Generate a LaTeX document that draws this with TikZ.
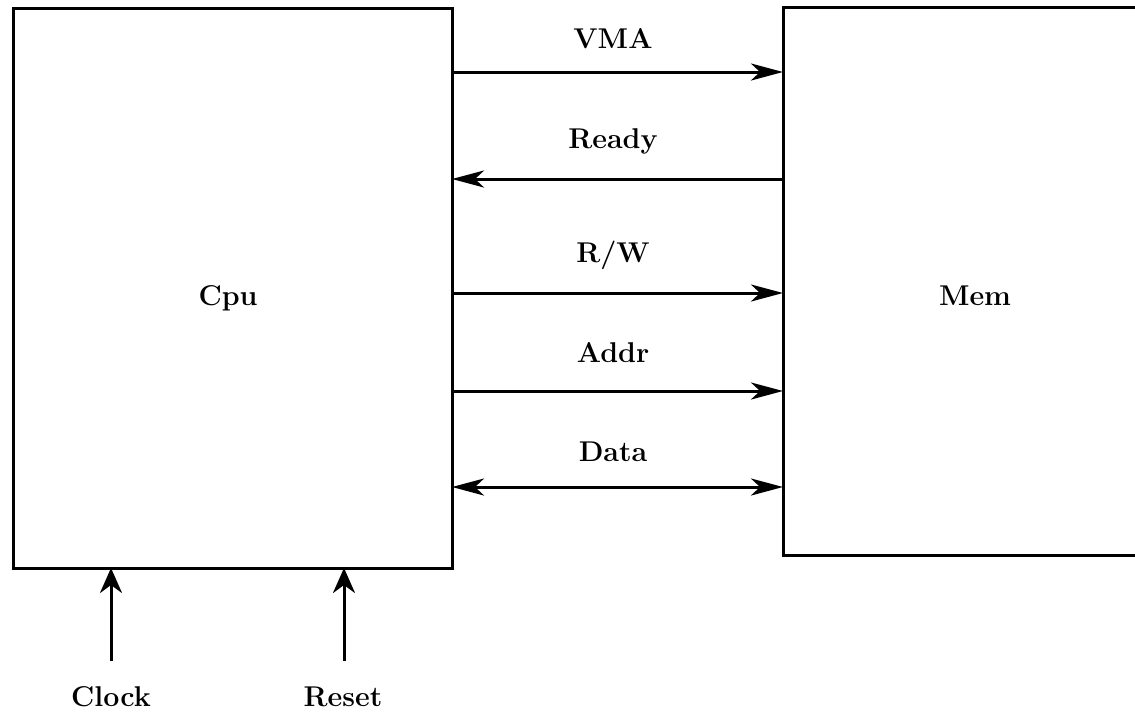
\documentclass[tikz,border=0pt]{standalone}
\usetikzlibrary{arrows.meta}
\begin{document}
\begin{tikzpicture}[x=0.5pt,y=-0.5pt,
  box/.style={draw,line width=1.5pt,inner sep=0pt,outer sep=0pt},
  lbl/.style={font=\fontsize{14.3}{17}\selectfont\bfseries,inner sep=0pt},
  sig/.style={line width=1.5pt,-{Stealth[length=16pt,width=8.5pt,inset=4.5pt]}},
  bsig/.style={line width=1.5pt,{Stealth[length=16pt,width=8.5pt,inset=4.5pt]}-{Stealth[length=16pt,width=8.5pt,inset=4.5pt]}},
  vsig/.style={line width=1.5pt,-{Stealth[length=12.5pt,width=11pt,inset=4pt]}}]
\useasboundingbox (0,0) rectangle (1135,714);
\clip (0,0) rectangle (1135,714);
\node[box,minimum width=219.5pt,minimum height=280pt] (cpu) at (232.5,288) {};
\node[box,minimum width=192pt,minimum height=274pt] (mem) at (975,281) {};
\node[lbl] (cpulbl) at (228,298) {Cpu};
\node[lbl] (memlbl) at (975,296) {Mem};
\coordinate (yvma) at (613,72);
\coordinate (yready) at (613,179);
\coordinate (yrw) at (613,293);
\coordinate (yaddr) at (613,391);
\coordinate (ydata) at (613,487);
\node[lbl] (lvma) at (613,39) {VMA};
\node[lbl] (lready) at (613,141) {Ready};
\node[lbl] (lrw) at (613,255) {R/W};
\node[lbl] (laddr) at (613,353) {Addr};
\node[lbl] (ldata) at (613,452) {Data};
\draw[sig] (cpu.east |- yvma) -- (mem.west |- yvma);
\draw[sig] (mem.west |- yready) -- (cpu.east |- yready);
\draw[sig] (cpu.east |- yrw) -- (mem.west |- yrw);
\draw[sig] (cpu.east |- yaddr) -- (mem.west |- yaddr);
\draw[bsig] (cpu.east |- ydata) -- (mem.west |- ydata);
\coordinate (clk) at (111,661);
\coordinate (rst) at (344,661);
\node[lbl] (lclk) at (111,697) {Clock};
\node[lbl] (lrst) at (343,697) {Reset};
\draw[vsig] (clk) -- (cpu.south -| clk);
\draw[vsig] (rst) -- (cpu.south -| rst);
\end{tikzpicture}
\end{document}
